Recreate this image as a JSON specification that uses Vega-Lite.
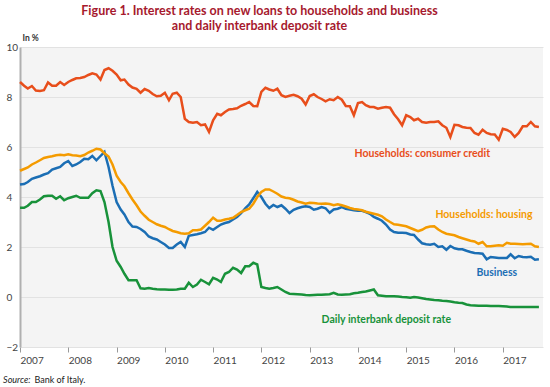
{
"$schema":"https://vega.github.io/schema/vega-lite/v6.json",
"autosize":"none",
"width":523,"height":300,
"padding":{"left":20,"top":47,"right":7,"bottom":40},
"background":"white",
"config":{
 "view":{"fill":"#f4f4f4","stroke":null},
 "font":"Lato",
 "axisY":{"grid":true,"gridColor":"#e2e2e2","domainColor":"#b0b0b0","domainWidth":2,"ticks":false,"tickSize":0,"labelAlign":"left","labelPadding":14,"labelColor":"#444","labelFontSize":10,"titleAngle":0,"titleAlign":"left","titleBaseline":"bottom","titleX":2,"titleY":-5,"titleFontSize":8.5,"titleFontWeight":"bold","titleColor":"#333"},
 "axisX":{"domain":false,"grid":false,"tickColor":"#999","tickSize":5,"labelAlign":"left","labelDx":-3,"labelPadding":3,"labelColor":"#444","labelFontSize":10,"labelFlush":false}
},
"title":{"text":["Figure 1. Interest rates on new loans to households and business","and daily interbank deposit rate"],"font":"Lato","fontSize":12.5,"fontWeight":"bold","color":"#a6192e","anchor":"middle","frame":"group","dx":-22,"offset":1,"lineHeight":15},
"datasets":{
"rates":[
{"t":"2007-01-01","c":8.6,"h":5.05,"b":4.5,"d":3.57},
{"t":"2007-02-01","c":8.45,"h":5.12,"b":4.52,"d":3.57},
{"t":"2007-03-01","c":8.34,"h":5.18,"b":4.6,"d":3.65},
{"t":"2007-04-01","c":8.44,"h":5.3,"b":4.73,"d":3.8},
{"t":"2007-05-01","c":8.26,"h":5.38,"b":4.78,"d":3.8},
{"t":"2007-06-01","c":8.24,"h":5.47,"b":4.83,"d":3.9},
{"t":"2007-07-01","c":8.27,"h":5.56,"b":4.9,"d":4.03},
{"t":"2007-08-01","c":8.58,"h":5.6,"b":4.95,"d":4.05},
{"t":"2007-09-01","c":8.45,"h":5.63,"b":5.1,"d":4.05},
{"t":"2007-10-01","c":8.45,"h":5.67,"b":5.15,"d":3.93},
{"t":"2007-11-01","c":8.6,"h":5.69,"b":5.2,"d":4.03},
{"t":"2007-12-01","c":8.48,"h":5.67,"b":5.35,"d":3.87},
{"t":"2008-01-01","c":8.6,"h":5.71,"b":5.44,"d":3.95},
{"t":"2008-02-01","c":8.68,"h":5.67,"b":5.24,"d":4.0},
{"t":"2008-03-01","c":8.75,"h":5.66,"b":5.3,"d":4.05},
{"t":"2008-04-01","c":8.76,"h":5.63,"b":5.4,"d":3.97},
{"t":"2008-05-01","c":8.8,"h":5.68,"b":5.53,"d":3.97},
{"t":"2008-06-01","c":8.88,"h":5.78,"b":5.51,"d":3.97},
{"t":"2008-07-01","c":8.95,"h":5.85,"b":5.64,"d":4.15},
{"t":"2008-08-01","c":8.9,"h":5.93,"b":5.47,"d":4.27},
{"t":"2008-09-01","c":8.7,"h":5.9,"b":5.64,"d":4.24},
{"t":"2008-10-01","c":9.08,"h":5.75,"b":5.8,"d":3.8},
{"t":"2008-11-01","c":9.15,"h":5.62,"b":5.2,"d":3.0},
{"t":"2008-12-01","c":9.05,"h":5.3,"b":4.45,"d":2.0},
{"t":"2009-01-01","c":8.9,"h":4.85,"b":3.8,"d":1.45},
{"t":"2009-02-01","c":8.67,"h":4.6,"b":3.5,"d":1.2},
{"t":"2009-03-01","c":8.7,"h":4.43,"b":3.3,"d":0.93},
{"t":"2009-04-01","c":8.5,"h":4.15,"b":3.0,"d":0.67},
{"t":"2009-05-01","c":8.38,"h":3.9,"b":2.82,"d":0.67},
{"t":"2009-06-01","c":8.33,"h":3.67,"b":2.8,"d":0.67},
{"t":"2009-07-01","c":8.17,"h":3.42,"b":2.72,"d":0.35},
{"t":"2009-08-01","c":8.32,"h":3.25,"b":2.6,"d":0.33},
{"t":"2009-09-01","c":8.25,"h":3.09,"b":2.42,"d":0.36},
{"t":"2009-10-01","c":8.12,"h":3.0,"b":2.35,"d":0.33},
{"t":"2009-11-01","c":8.03,"h":2.91,"b":2.3,"d":0.31},
{"t":"2009-12-01","c":8.05,"h":2.85,"b":2.2,"d":0.3},
{"t":"2010-01-01","c":8.17,"h":2.8,"b":2.1,"d":0.3},
{"t":"2010-02-01","c":7.87,"h":2.71,"b":1.96,"d":0.29},
{"t":"2010-03-01","c":8.13,"h":2.64,"b":1.96,"d":0.29},
{"t":"2010-04-01","c":8.17,"h":2.6,"b":2.1,"d":0.3},
{"t":"2010-05-01","c":8.0,"h":2.55,"b":2.2,"d":0.33},
{"t":"2010-06-01","c":7.13,"h":2.53,"b":2.0,"d":0.33},
{"t":"2010-07-01","c":7.0,"h":2.55,"b":2.45,"d":0.57},
{"t":"2010-08-01","c":6.97,"h":2.67,"b":2.48,"d":0.4},
{"t":"2010-09-01","c":7.0,"h":2.67,"b":2.51,"d":0.5},
{"t":"2010-10-01","c":6.87,"h":2.7,"b":2.55,"d":0.69},
{"t":"2010-11-01","c":6.9,"h":2.85,"b":2.6,"d":0.6},
{"t":"2010-12-01","c":6.6,"h":3.0,"b":2.77,"d":0.51},
{"t":"2011-01-01","c":7.07,"h":3.17,"b":2.69,"d":0.77},
{"t":"2011-02-01","c":7.33,"h":3.05,"b":2.8,"d":0.7},
{"t":"2011-03-01","c":7.27,"h":3.05,"b":2.9,"d":0.6},
{"t":"2011-04-01","c":7.4,"h":3.1,"b":2.96,"d":0.93},
{"t":"2011-05-01","c":7.5,"h":3.13,"b":3.0,"d":1.0},
{"t":"2011-06-01","c":7.52,"h":3.17,"b":3.1,"d":1.17},
{"t":"2011-07-01","c":7.55,"h":3.28,"b":3.2,"d":1.1},
{"t":"2011-08-01","c":7.65,"h":3.4,"b":3.35,"d":0.96},
{"t":"2011-09-01","c":7.72,"h":3.47,"b":3.55,"d":1.23},
{"t":"2011-10-01","c":7.8,"h":3.53,"b":3.7,"d":1.23},
{"t":"2011-11-01","c":7.64,"h":3.73,"b":3.95,"d":1.37},
{"t":"2011-12-01","c":7.63,"h":4.0,"b":4.2,"d":1.3},
{"t":"2012-01-01","c":8.2,"h":4.2,"b":4.0,"d":0.4},
{"t":"2012-02-01","c":8.37,"h":4.3,"b":3.73,"d":0.36},
{"t":"2012-03-01","c":8.3,"h":4.3,"b":3.56,"d":0.33},
{"t":"2012-04-01","c":8.25,"h":4.22,"b":3.68,"d":0.36},
{"t":"2012-05-01","c":8.33,"h":4.13,"b":3.6,"d":0.4},
{"t":"2012-06-01","c":8.07,"h":4.02,"b":3.67,"d":0.3},
{"t":"2012-07-01","c":8.0,"h":3.97,"b":3.53,"d":0.2},
{"t":"2012-08-01","c":8.05,"h":3.95,"b":3.36,"d":0.13},
{"t":"2012-09-01","c":8.09,"h":3.89,"b":3.49,"d":0.12},
{"t":"2012-10-01","c":8.03,"h":3.82,"b":3.55,"d":0.11},
{"t":"2012-11-01","c":7.93,"h":3.78,"b":3.6,"d":0.1},
{"t":"2012-12-01","c":7.7,"h":3.73,"b":3.63,"d":0.08},
{"t":"2013-01-01","c":8.04,"h":3.77,"b":3.6,"d":0.07},
{"t":"2013-02-01","c":8.11,"h":3.76,"b":3.49,"d":0.08},
{"t":"2013-03-01","c":8.0,"h":3.74,"b":3.53,"d":0.09},
{"t":"2013-04-01","c":7.92,"h":3.73,"b":3.6,"d":0.09},
{"t":"2013-05-01","c":7.83,"h":3.74,"b":3.55,"d":0.1},
{"t":"2013-06-01","c":7.91,"h":3.72,"b":3.37,"d":0.11},
{"t":"2013-07-01","c":7.87,"h":3.67,"b":3.5,"d":0.17},
{"t":"2013-08-01","c":8.0,"h":3.71,"b":3.53,"d":0.1},
{"t":"2013-09-01","c":7.89,"h":3.67,"b":3.6,"d":0.09},
{"t":"2013-10-01","c":7.64,"h":3.62,"b":3.53,"d":0.1},
{"t":"2013-11-01","c":7.63,"h":3.56,"b":3.5,"d":0.11},
{"t":"2013-12-01","c":7.27,"h":3.52,"b":3.47,"d":0.15},
{"t":"2014-01-01","c":7.76,"h":3.5,"b":3.45,"d":0.17},
{"t":"2014-02-01","c":7.8,"h":3.47,"b":3.45,"d":0.2},
{"t":"2014-03-01","c":7.67,"h":3.41,"b":3.4,"d":0.22},
{"t":"2014-04-01","c":7.6,"h":3.37,"b":3.33,"d":0.26},
{"t":"2014-05-01","c":7.6,"h":3.33,"b":3.2,"d":0.3},
{"t":"2014-06-01","c":7.53,"h":3.29,"b":3.13,"d":0.07},
{"t":"2014-07-01","c":7.57,"h":3.23,"b":3.05,"d":0.05},
{"t":"2014-08-01","c":7.6,"h":3.1,"b":2.9,"d":0.03},
{"t":"2014-09-01","c":7.57,"h":3.0,"b":2.7,"d":0.03},
{"t":"2014-10-01","c":7.31,"h":2.91,"b":2.6,"d":0.03},
{"t":"2014-11-01","c":7.11,"h":2.89,"b":2.57,"d":0.02},
{"t":"2014-12-01","c":6.87,"h":2.86,"b":2.57,"d":0.0},
{"t":"2015-01-01","c":7.27,"h":2.83,"b":2.56,"d":-0.01},
{"t":"2015-02-01","c":7.2,"h":2.76,"b":2.5,"d":-0.03},
{"t":"2015-03-01","c":7.07,"h":2.7,"b":2.48,"d":0.0},
{"t":"2015-04-01","c":7.13,"h":2.63,"b":2.3,"d":-0.02},
{"t":"2015-05-01","c":7.0,"h":2.69,"b":2.15,"d":-0.05},
{"t":"2015-06-01","c":6.97,"h":2.78,"b":2.11,"d":-0.08},
{"t":"2015-07-01","c":7.0,"h":2.82,"b":2.09,"d":-0.1},
{"t":"2015-08-01","c":7.0,"h":2.83,"b":2.13,"d":-0.12},
{"t":"2015-09-01","c":7.03,"h":2.7,"b":2.0,"d":-0.13},
{"t":"2015-10-01","c":6.87,"h":2.6,"b":2.03,"d":-0.15},
{"t":"2015-11-01","c":6.77,"h":2.53,"b":1.89,"d":-0.16},
{"t":"2015-12-01","c":6.4,"h":2.5,"b":2.04,"d":-0.18},
{"t":"2016-01-01","c":6.89,"h":2.47,"b":1.95,"d":-0.21},
{"t":"2016-02-01","c":6.87,"h":2.4,"b":1.91,"d":-0.23},
{"t":"2016-03-01","c":6.8,"h":2.35,"b":1.91,"d":-0.24},
{"t":"2016-04-01","c":6.77,"h":2.3,"b":1.85,"d":-0.3},
{"t":"2016-05-01","c":6.76,"h":2.25,"b":1.8,"d":-0.33},
{"t":"2016-06-01","c":6.56,"h":2.22,"b":1.76,"d":-0.34},
{"t":"2016-07-01","c":6.49,"h":2.13,"b":1.75,"d":-0.35},
{"t":"2016-08-01","c":6.69,"h":2.2,"b":1.73,"d":-0.35},
{"t":"2016-09-01","c":6.56,"h":2.03,"b":1.51,"d":-0.35},
{"t":"2016-10-01","c":6.51,"h":2.03,"b":1.6,"d":-0.36},
{"t":"2016-11-01","c":6.5,"h":2.05,"b":1.58,"d":-0.36},
{"t":"2016-12-01","c":6.29,"h":2.07,"b":1.56,"d":-0.36},
{"t":"2017-01-01","c":6.73,"h":2.05,"b":1.56,"d":-0.37},
{"t":"2017-02-01","c":6.68,"h":2.17,"b":1.56,"d":-0.38},
{"t":"2017-03-01","c":6.6,"h":2.13,"b":1.71,"d":-0.4},
{"t":"2017-04-01","c":6.4,"h":2.13,"b":1.55,"d":-0.4},
{"t":"2017-05-01","c":6.56,"h":2.12,"b":1.64,"d":-0.4},
{"t":"2017-06-01","c":6.83,"h":2.11,"b":1.6,"d":-0.4},
{"t":"2017-07-01","c":6.83,"h":2.12,"b":1.59,"d":-0.4},
{"t":"2017-08-01","c":7.0,"h":2.13,"b":1.61,"d":-0.4},
{"t":"2017-09-01","c":6.83,"h":2.03,"b":1.49,"d":-0.4},
{"t":"2017-10-01","c":6.8,"h":2.0,"b":1.51,"d":-0.4}
],
"labels":[
{"label":"Households: consumer credit","t":"2013-12-06","v":5.74},
{"label":"Households: housing","t":"2015-08-10","v":3.3},
{"label":"Business","t":"2016-06-15","v":0.98},
{"label":"Daily interbank deposit rate","t":"2013-04-01","v":-0.93}
],
"source1":[{"s":"Source:","t":"2006-08-26","v":-3.3}],
"source2":[{"s":"Bank of Italy.","t":"2007-04-20","v":-3.3}]
},
"layer":[
{"mark":{"type":"rule","color":"#555555","strokeWidth":1},
 "encoding":{"y":{"datum":0,"type":"quantitative","title":"In %","scale":{"domain":[-2,10]},"axis":{"values":[-2,0,2,4,6,8,10]}}}},
{"data":{"name":"rates"},"mark":{"type":"line","color":"#e84e1b","strokeWidth":2.5},
 "encoding":{
  "x":{"field":"t","type":"temporal","title":null,"scale":{"type":"utc","domain":[{"year":2007,"month":1,"date":1,"utc":true},{"year":2017,"month":11,"date":1,"utc":true}]},"axis":{"format":"%Y","tickCount":{"interval":"year","step":1}}},
  "y":{"field":"c","type":"quantitative","title":"In %","scale":{"domain":[-2,10]},"axis":{"values":[-2,0,2,4,6,8,10]}}}},
{"data":{"name":"rates"},"mark":{"type":"line","color":"#1b6eb4","strokeWidth":2.5},
 "encoding":{
  "x":{"field":"t","type":"temporal","title":null,"scale":{"type":"utc","domain":[{"year":2007,"month":1,"date":1,"utc":true},{"year":2017,"month":11,"date":1,"utc":true}]},"axis":{"format":"%Y","tickCount":{"interval":"year","step":1}}},
  "y":{"field":"b","type":"quantitative","title":"In %","scale":{"domain":[-2,10]},"axis":{"values":[-2,0,2,4,6,8,10]}}}},
{"data":{"name":"rates"},"mark":{"type":"line","color":"#f49b00","strokeWidth":2.5},
 "encoding":{
  "x":{"field":"t","type":"temporal","title":null,"scale":{"type":"utc","domain":[{"year":2007,"month":1,"date":1,"utc":true},{"year":2017,"month":11,"date":1,"utc":true}]},"axis":{"format":"%Y","tickCount":{"interval":"year","step":1}}},
  "y":{"field":"h","type":"quantitative","title":"In %","scale":{"domain":[-2,10]},"axis":{"values":[-2,0,2,4,6,8,10]}}}},
{"data":{"name":"rates"},"mark":{"type":"line","color":"#18923a","strokeWidth":2.5},
 "encoding":{
  "x":{"field":"t","type":"temporal","title":null,"scale":{"type":"utc","domain":[{"year":2007,"month":1,"date":1,"utc":true},{"year":2017,"month":11,"date":1,"utc":true}]},"axis":{"format":"%Y","tickCount":{"interval":"year","step":1}}},
  "y":{"field":"d","type":"quantitative","title":"In %","scale":{"domain":[-2,10]},"axis":{"values":[-2,0,2,4,6,8,10]}}}},
{"data":{"name":"labels"},"mark":{"type":"text","align":"left","baseline":"middle","font":"Lato","fontSize":10.5,"fontWeight":"bold"},
 "encoding":{
  "x":{"field":"t","type":"temporal","title":null,"scale":{"type":"utc","domain":[{"year":2007,"month":1,"date":1,"utc":true},{"year":2017,"month":11,"date":1,"utc":true}]},"axis":{"format":"%Y","tickCount":{"interval":"year","step":1}}},
  "y":{"field":"v","type":"quantitative","title":"In %","scale":{"domain":[-2,10]},"axis":{"values":[-2,0,2,4,6,8,10]}},
  "text":{"field":"label"},
  "color":{"field":"label","type":"nominal","legend":null,"scale":{"domain":["Households: consumer credit","Households: housing","Business","Daily interbank deposit rate"],"range":["#e84e1b","#f49b00","#1b6eb4","#18923a"]}}}},
{"data":{"name":"source1"},"mark":{"type":"text","align":"left","baseline":"middle","font":"Lato","fontSize":9,"fontStyle":"italic","color":"#222"},
 "encoding":{
  "x":{"field":"t","type":"temporal","title":null,"scale":{"type":"utc","domain":[{"year":2007,"month":1,"date":1,"utc":true},{"year":2017,"month":11,"date":1,"utc":true}]},"axis":{"format":"%Y","tickCount":{"interval":"year","step":1}}},
  "y":{"field":"v","type":"quantitative","title":"In %","scale":{"domain":[-2,10]},"axis":{"values":[-2,0,2,4,6,8,10]}},
  "text":{"field":"s"}}},
{"data":{"name":"source2"},"mark":{"type":"text","align":"left","baseline":"middle","font":"Lato","fontSize":9,"color":"#222"},
 "encoding":{
  "x":{"field":"t","type":"temporal","title":null,"scale":{"type":"utc","domain":[{"year":2007,"month":1,"date":1,"utc":true},{"year":2017,"month":11,"date":1,"utc":true}]},"axis":{"format":"%Y","tickCount":{"interval":"year","step":1}}},
  "y":{"field":"v","type":"quantitative","title":"In %","scale":{"domain":[-2,10]},"axis":{"values":[-2,0,2,4,6,8,10]}},
  "text":{"field":"s"}}}
]
}
